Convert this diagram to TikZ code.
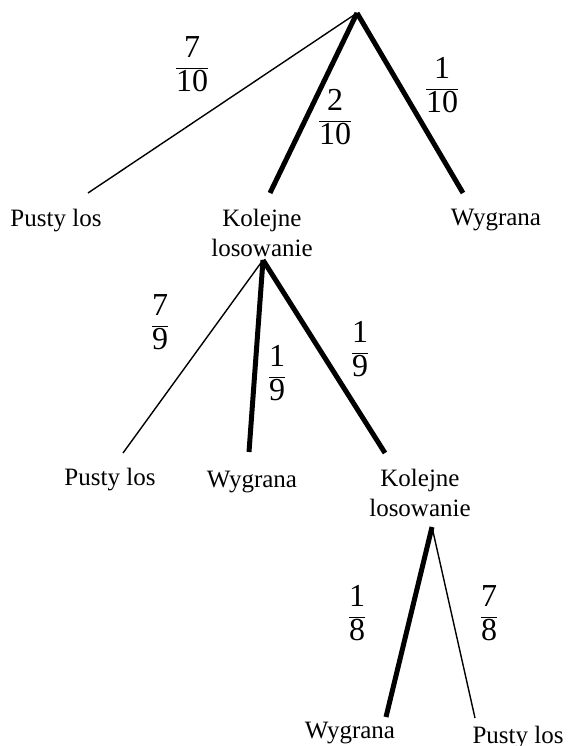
\documentclass[tikz,border=0pt]{standalone}
\usepackage{fontspec}
\setmainfont{Liberation Serif}
\usetikzlibrary{positioning}
\newcommand{\ulamek}[2]{$\displaystyle\frac{\mbox{#1}}{\mbox{#2}}$}

\begin{document}
\begin{tikzpicture}[x=1pt,y=-1pt]
\tikzstyle{thinbranch}=[line width=1.4pt]
\tikzstyle{thickbranch}=[line width=5pt]
\tikzstyle{leaf}=[inner sep=0pt,anchor=north,align=center,font=\fontsize{25}{30}\selectfont]
\tikzstyle{prob}=[inner sep=0pt,font=\fontsize{32}{36}\selectfont]
\useasboundingbox (0,0) rectangle (570,746);
% first draw
\coordinate (r1) at (357,13);
\coordinate (p1) at (88,193);
\coordinate (k1) at (270,193);
\coordinate (w1) at (463,193);
\node [leaf] (pl1) at (56,209) {Pusty los};
\node [leaf] (kl1) at (262,209) {Kolejne\\losowanie};
\node [leaf] (wl1) at (496,209) {Wygrana};
\draw [thinbranch] (r1) -- (p1);
\draw [thickbranch] (r1) -- (k1);
\draw [thickbranch] (r1) -- (w1);
\node [prob] (f11) at (192,64) {\ulamek{7}{10}};
\node [prob] (f12) at (335,117) {\ulamek{2}{10}};
\node [prob] (f13) at (442,85) {\ulamek{1}{10}};
% second draw
\coordinate (r2) at (263,260);
\coordinate (p2) at (123,453);
\coordinate (w2) at (249,452);
\coordinate (k2) at (385,453);
\node [leaf] (pl2) at (110,468) {Pusty los};
\node [leaf] (wl2) at (252,471) {Wygrana};
\node [leaf] (kl2) at (420,469) {Kolejne\\losowanie};
\draw [thinbranch] (r2) -- (p2);
\draw [thickbranch] (r2) -- (w2);
\draw [thickbranch] (r2) -- (k2);
\node [prob] (f21) at (160,322) {\ulamek{7}{9}};
\node [prob] (f22) at (277,373) {\ulamek{1}{9}};
\node [prob] (f23) at (360,349) {\ulamek{1}{9}};
% third draw
\coordinate (r3) at (432,527);
\coordinate (w3) at (386,717);
\coordinate (p3) at (475,718);
\node [leaf] (wl3) at (350,722) {Wygrana};
\node [leaf] (pl3) at (518,726) {Pusty los};
\draw [thickbranch] (r3) -- (w3);
\draw [thinbranch] (r3) -- (p3);
\node [prob] (f31) at (357,613) {\ulamek{1}{8}};
\node [prob] (f32) at (489,613) {\ulamek{7}{8}};
\end{tikzpicture}
\end{document}
